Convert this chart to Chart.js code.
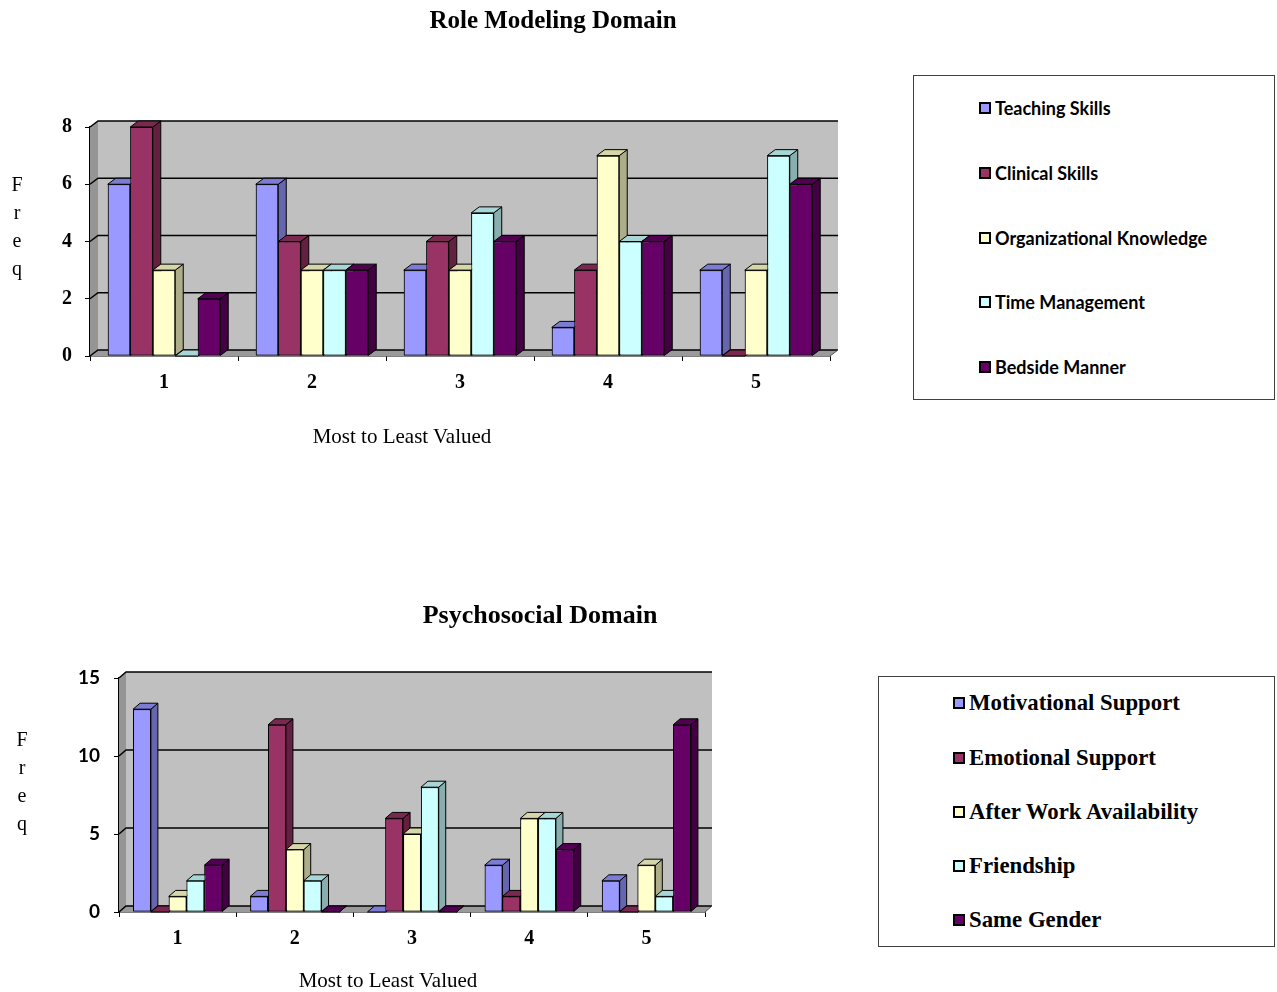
<!DOCTYPE html>
<html><head><meta charset="utf-8">
<script src="https://cdn.jsdelivr.net/npm/chart.js@4.4.1/dist/chart.umd.min.js"></script>
<style>
html,body{margin:0;padding:0;background:#fff;width:1277px;height:992px;overflow:hidden;position:relative}
canvas{position:absolute;left:0;top:0}
.wrap{position:absolute}
.lbl{position:absolute;white-space:nowrap;transform:translate(-50%,-50%);font-family:"Liberation Serif","Times New Roman",serif;color:#000;line-height:1}
.legend{position:absolute;border:1px solid #404040;box-sizing:border-box;background:#fff}
.item{position:absolute;white-space:nowrap;display:flex;align-items:center;transform:translateY(-50%);color:#000;line-height:1}
.sw{width:12px;height:12px;border:2px solid #000;box-sizing:border-box;margin-right:4px;flex:none}
</style></head><body>
<div class="wrap" style="left:0;top:0;width:1106px;height:470px"><canvas id="c1" width="1106" height="470"></canvas></div>
<div class="wrap" style="left:0;top:560px;width:1080px;height:432px"><canvas id="c2" width="1080" height="432"></canvas></div>

<script>
// ---------- data ----------
const categories = ['1', '2', '3', '4', '5'];

const roleTitle = 'Role Modeling Domain';
const roleSeries = ['Teaching Skills', 'Clinical Skills', 'Organizational Knowledge', 'Time Management', 'Bedside Manner'];
const teaching = [6, 6, 3, 1, 3];
const clinical = [8, 4, 4, 3, 0];
const organizational = [3, 3, 3, 7, 3];
const timeManagement = [0, 3, 5, 4, 7];
const bedside = [2, 3, 4, 4, 6];
const roleTicks = [0, 2, 4, 6, 8];

const psychoTitle = 'Psychosocial Domain';
const psychoSeries = ['Motivational Support', 'Emotional Support', 'After Work Availability', 'Friendship', 'Same Gender'];
const motivational = [13, 1, 0, 3, 2];
const emotional = [0, 12, 6, 1, 0];
const afterWork = [1, 4, 5, 6, 3];
const friendship = [2, 2, 8, 6, 1];
const sameGender = [3, 0, 0, 4, 12];
const psychoTicks = [0, 5, 10, 15];

const xTitle = 'Most to Least Valued';
const yTitleLetters = ['F', 'r', 'e', 'q'];

// ---------- styles ----------
const frontColors = ['#9999FF', '#993366', '#FFFFCC', '#CCFFFF', '#660066'];
const sideColors  = ['#6666B0', '#64203F', '#ADAD8A', '#8AADAD', '#420042'];
const topColors   = ['#7C7CD4', '#7A2850', '#D6D6A8', '#A8D6D6', '#520052'];
const SERIF = '"Liberation Serif", "Times New Roman", serif';
const SANS = 'Lato, "Open Sans", sans-serif';

// ---------- 3D plugin ----------
const depth3d = {
  id: 'depth3d',
  beforeDatasetsDraw(chart, args, o) {
    const {ctx, chartArea: a, scales: {y}} = chart;
    const dx = o.dx, dy = o.dy;
    ctx.save();
    // back wall
    ctx.fillStyle = '#C0C0C0';
    ctx.fillRect(a.left + dx, a.top + dy, a.right - a.left, a.bottom - a.top);
    // left side wall
    ctx.fillStyle = '#959595';
    ctx.beginPath();
    ctx.moveTo(a.left, a.top); ctx.lineTo(a.left + dx, a.top + dy);
    ctx.lineTo(a.left + dx, a.bottom + dy); ctx.lineTo(a.left, a.bottom); ctx.closePath();
    ctx.fill();
    // floor
    ctx.fillStyle = '#9A9A9A';
    ctx.beginPath();
    ctx.moveTo(a.left, a.bottom); ctx.lineTo(a.left + dx, a.bottom + dy);
    ctx.lineTo(a.right + dx, a.bottom + dy); ctx.lineTo(a.right, a.bottom); ctx.closePath();
    ctx.fill();
    // gridlines on the walls
    ctx.strokeStyle = '#000';
    ctx.lineWidth = 1.5;
    y.ticks.forEach(t => {
      const py = y.getPixelForValue(t.value);
      ctx.beginPath();
      ctx.moveTo(a.left, py); ctx.lineTo(a.left + dx, py + dy); ctx.lineTo(a.right + dx, py + dy);
      ctx.stroke();
    });
    ctx.lineWidth = 1;
    ctx.strokeStyle = '#555';
    ctx.beginPath();
    ctx.moveTo(a.right, a.bottom); ctx.lineTo(a.right + dx, a.bottom + dy);
    ctx.stroke();
    ctx.restore();
  },
  afterDatasetsDraw(chart, args, o) {
    const ctx = chart.ctx;
    const dx = o.dx, dy = o.dy;
    const items = [];
    chart.data.datasets.forEach((ds, i) => {
      chart.getDatasetMeta(i).data.forEach(bar => items.push({bar, i}));
    });
    items.sort((p, q) => p.bar.x - q.bar.x);
    ctx.save();
    items.forEach(({bar, i}) => {
      const {x, y, base, width} = bar.getProps(['x', 'y', 'base', 'width'], true);
      const l = x - width / 2, r = x + width / 2;
      const top = Math.min(y, base), bot = Math.max(y, base);
      ctx.strokeStyle = '#000';
      ctx.lineWidth = 1;
      // side face
      ctx.fillStyle = o.sideColors[i];
      ctx.beginPath();
      ctx.moveTo(r, top); ctx.lineTo(r + dx, top + dy); ctx.lineTo(r + dx, bot + dy); ctx.lineTo(r, bot); ctx.closePath();
      ctx.fill(); ctx.stroke();
      // top face
      ctx.fillStyle = o.topColors[i];
      ctx.beginPath();
      ctx.moveTo(l, top); ctx.lineTo(l + dx, top + dy); ctx.lineTo(r + dx, top + dy); ctx.lineTo(r, top); ctx.closePath();
      ctx.fill(); ctx.stroke();
      // front face redrawn by the library
      bar.draw(ctx);
    });
    ctx.restore();
  }
};

function makeDatasets(labels, series) {
  return series.map((vals, i) => ({
    label: labels[i],
    data: vals,
    backgroundColor: frontColors[i],
    borderColor: '#000',
    borderWidth: 1,
    borderSkipped: false,
    barPercentage: 1,
    categoryPercentage: 0.76,
    yAxisID: 'y'
  }));
}

function makeChart(id, p) {
  return new Chart(document.getElementById(id), {
    type: 'bar',
    data: { labels: categories, datasets: makeDatasets(p.labels, p.series) },
    plugins: [depth3d],
    options: {
      responsive: false,
      animation: false,
      events: [],
      layout: { padding: 0 },
      plugins: {
        legend: { display: false },
        tooltip: { enabled: false },
        title: {
          display: true, text: p.title, color: '#000',
          font: { family: SERIF, size: p.titleSize, weight: 'bold', lineHeight: 1.2 },
          padding: { top: p.titleTop, bottom: p.titleBottom }
        },
        depth3d: { dx: p.dx, dy: p.dy, sideColors, topColors }
      },
      scales: {
        x: {
          offset: true, z: 1,
          grid: { offset: true, drawOnChartArea: false, drawTicks: true, tickLength: 5, color: '#000' },
          border: { color: '#000', width: 1.5 },
          ticks: { color: '#000', padding: p.xPad, maxRotation: 0, font: { family: SERIF, size: 20, weight: 'bold' } },
          afterFit: s => { s.height = p.xHeight; }
        },
        y: {
          min: 0, max: p.ticks[p.ticks.length - 1], z: 1,
          afterBuildTicks: s => { s.ticks = p.ticks.map(v => ({ value: v })); },
          grid: { drawOnChartArea: false, drawTicks: true, tickLength: 5, color: '#000' },
          border: { color: '#000', width: 1.5 },
          ticks: { color: '#000', padding: p.yPad, font: p.yFont },
          afterFit: s => { s.width = p.yWidth; }
        },
        yR: {
          position: 'right', display: true,
          grid: { display: false }, border: { display: false }, ticks: { display: false },
          afterFit: s => { s.width = p.rightWidth; }
        }
      }
    }
  });
}

const chart1 = makeChart('c1', {
  title: roleTitle, titleSize: 25, titleTop: 7, titleBottom: 90,
  labels: roleSeries, series: [teaching, clinical, organizational, timeManagement, bedside],
  ticks: roleTicks, yWidth: 90, rightWidth: 276, xHeight: 114, xPad: 10, yPad: 13,
  yFont: { family: SERIF, size: 20, weight: 'bold' },
  dx: 8, dy: -6
});
const chart2 = makeChart('c2', {
  title: psychoTitle, titleSize: 26, titleTop: 40.4, titleBottom: 46.4,
  labels: psychoSeries, series: [motivational, emotional, afterWork, friendship, sameGender],
  ticks: psychoTicks, yWidth: 119, rightWidth: 375, xHeight: 80, xPad: 10, yPad: 14,
  yFont: { family: SANS, size: 19, weight: 'bold' },
  dx: 7, dy: -6
});

// ---------- HTML text: axis titles & legends ----------
function addLabel(text, x, y, css) {
  const d = document.createElement('div');
  d.className = 'lbl';
  d.textContent = text;
  d.style.left = x + 'px'; d.style.top = y + 'px';
  Object.assign(d.style, css || {});
  document.body.appendChild(d);
}
addLabel(xTitle, 402, 436, { fontSize: '21px' });
addLabel(xTitle, 388, 980, { fontSize: '21px' });
yTitleLetters.forEach((ch, k) => addLabel(ch, 17, 184 + k * 28, { fontSize: '20px' }));
yTitleLetters.forEach((ch, k) => addLabel(ch, 22, 739 + k * 28, { fontSize: '20px' }));

function htmlLegend(chart, box, rows, swLeft, font) {
  const el = document.createElement('div');
  el.className = 'legend';
  Object.assign(el.style, { left: box.x + 'px', top: box.y + 'px', width: box.w + 'px', height: box.h + 'px' });
  const items = chart.options.plugins.legend.labels.generateLabels(chart);
  items.forEach((it, i) => {
    const row = document.createElement('div');
    row.className = 'item';
    row.style.left = (swLeft - box.x - 1) + 'px';
    row.style.top = (rows[i] - box.y - 1) + 'px';
    row.style.font = font;
    const sw = document.createElement('span');
    sw.className = 'sw';
    sw.style.background = it.fillStyle;
    const tx = document.createElement('span');
    tx.textContent = it.text;
    row.appendChild(sw); row.appendChild(tx);
    el.appendChild(row);
  });
  document.body.appendChild(el);
}
htmlLegend(chart1, { x: 913, y: 75, w: 362, h: 325 }, [108, 173, 238, 302, 367], 979, 'bold 18px Lato, "Open Sans", sans-serif');
htmlLegend(chart2, { x: 878, y: 676, w: 397, h: 271 }, [703, 758, 812, 866, 920], 953, 'bold 22.8px "Liberation Serif", "Times New Roman", serif');
</script>
</body></html>
